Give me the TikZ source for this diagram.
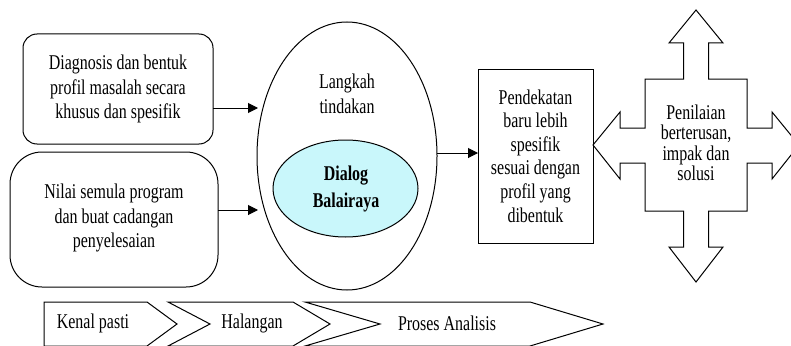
\documentclass[tikz,border=0pt]{standalone}
\usepackage{fontspec}
\setmainfont[FakeStretch=0.76]{Liberation Serif}
\usetikzlibrary{arrows.meta,shapes.geometric}
\definecolor{dialogfill}{RGB}{201,247,251}
\tikzset{
  ln/.style={line width=1pt, draw=black},
  txt/.style={align=center, font=\fontsize{21}{24.5}\selectfont, inner sep=0pt},
  arr/.style={ln, -{Triangle[length=10pt,width=10pt]}},
}
\begin{document}
\begin{tikzpicture}[x=1pt,y=-1pt]
\useasboundingbox (0,0) rectangle (791,345);
\clip (0,0) rectangle (791,345);
% left boxes
\draw[ln, rounded corners=14pt] (23,34) rectangle (213,144);
\node[txt] (b1) at (118,89) {Diagnosis dan bentuk\\profil masalah secara\\khusus dan spesifik};
\coordinate (b1e) at (213,108);
\draw[ln, rounded corners=32pt] (10,152) rectangle (218,287);
\node[txt] (b2) at (114,218) {Nilai semula program\\dan buat cadangan\\penyelesaian};
\coordinate (b2e) at (218,210);
% big ellipse
\node[ln, ellipse, minimum width=180pt, minimum height=268pt, inner sep=0pt] (ell) at (347,156) {};
\node[ln, ellipse, fill=dialogfill, minimum width=145pt, minimum height=97pt, inner sep=0pt] (dlg) at (345.5,188.5) {};
\node[txt] (lt) at (347,94) {Langkah\\tindakan};
\node[txt, font=\fontsize{21}{27}\selectfont\bfseries] (dt) at (346,189) {Dialog\\Balairaya};
\coordinate (t1) at (258,108);
\coordinate (t2) at (258,210);
\draw[arr] (b1e) -- (t1);
\draw[arr] (b2e) -- (t2);
% rectangle
\draw[ln] (478,69) rectangle (593,243);
\node[txt, font=\fontsize{21}{23.6}\selectfont] (pb) at (535.5,156) {Pendekatan\\baru lebih\\spesifik\\sesuai dengan\\profil yang\\dibentuk};
\coordinate (ee) at (437,153);
\coordinate (pw) at (478,153);
\draw[arr] (ee) -- (pw);
% cross arrow
\draw[ln, line join=miter] (696,10) -- (723,43) -- (708.5,43) -- (708.5,79) -- (747,79) -- (747,128) -- (772,128) -- (772,112)
  -- (799,145) -- (772,179) -- (772,163) -- (747,163) -- (747,211) -- (708.5,211) -- (708.5,247) -- (723,247)
  -- (696,282) -- (669,247) -- (683.5,247) -- (683.5,211) -- (645,211) -- (645,163) -- (620,163) -- (620,179)
  -- (593,145) -- (620,112) -- (620,128) -- (645,128) -- (645,79) -- (683.5,79) -- (683.5,43) -- (669,43) -- cycle;
\node[txt, font=\fontsize{21}{20.5}\selectfont] (pn) at (696,143) {Penilaian\\berterusan,\\impak dan\\solusi};
% chevrons
\draw[ln] (44,302) -- (147,302) -- (177,324) -- (147,346) -- (44,346) -- cycle;
\draw[ln] (168,302) -- (293,302) -- (330,324) -- (293,346) -- (168,346) -- (210,324) -- cycle;
\draw[ln] (305,302) -- (530,302) -- (603,324) -- (530,346) -- (305,346) -- (380,324) -- cycle;
\node[txt] (k1) at (93,323) {Kenal pasti};
\node[txt] (k2) at (252,323) {Halangan};
\node[txt] (k3) at (447,323) {Proses Analisis};
\end{tikzpicture}
\end{document}
